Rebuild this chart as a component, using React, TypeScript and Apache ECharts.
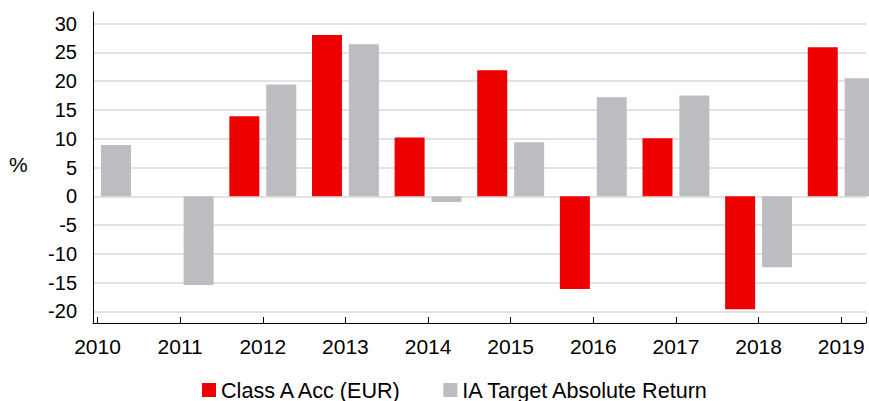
import React, { useEffect, useRef } from "react";
import * as echarts from "echarts";

const years = [2010, 2011, 2012, 2013, 2014, 2015, 2016, 2017, 2018, 2019];
const classA: (number | null)[] = [null, null, 13.9, 28.0, 10.2, 21.9, -16.1, 10.1, -19.6, 25.9];
const iaTarget: (number | null)[] = [8.9, -15.4, 19.4, 26.4, -1.0, 9.4, 17.2, 17.5, -12.3, 20.5];
const seriesNames = ["Class A Acc (EUR)", "IA Target Absolute Return"];
const yTickStep = 5;

const FONT = "'Liberation Sans', Arial, sans-serif";

export default function App() {
  const ref = useRef<HTMLDivElement>(null);
  useEffect(() => {
    if (!ref.current) return;
    const chart = echarts.init(ref.current, undefined, { renderer: "svg" });
    const toPairs = (arr: (number | null)[]) =>
      years.map((y, i) => [y, arr[i]]).filter((p) => p[1] !== null);
    const T = "rgba(0,0,0,0)";
    const G = "#d9d9d9";
    chart.setOption({
      animation: false,
      grid: { left: 93, right: 0, top: 12, bottom: 78, containLabel: false },
      xAxis: {
        type: "value",
        min: 2009.945,
        max: 2019.3,
        minInterval: 1,
        maxInterval: 1,
        axisLine: { show: true, onZero: false, lineStyle: { color: "#000", width: 1 } },
        axisTick: { show: true, inside: true, length: 6, lineStyle: { color: "#000" } },
        splitLine: { show: false },
        axisLabel: {
          margin: 13,
          fontSize: 21,
          fontFamily: FONT,
          color: "#000",
          formatter: (v: number) => (Number.isInteger(v) ? String(v) : ""),
        },
      },
      yAxis: {
        type: "value",
        min: -22,
        max: 32,
        minInterval: 1,
        maxInterval: 1,
        axisLine: { show: true, lineStyle: { color: "#000", width: 1 } },
        axisTick: { show: false },
        splitLine: { show: true, lineStyle: { color: [T, T, G, T, T], width: 1.5 } },
        axisLabel: {
          margin: 16,
          fontSize: 20,
          fontFamily: FONT,
          color: "#000",
          formatter: (v: number) => (Math.round(v) % yTickStep === 0 ? String(Math.round(v)) : ""),
        },
      },
      legend: {
        left: 197,
        top: 374,
        itemWidth: 14,
        itemHeight: 14,
        itemGap: 40,
        icon: "rect",
        textStyle: { fontSize: 21.6, fontFamily: FONT, color: "#000" },
        data: seriesNames,
      },
      graphic: [
        {
          type: "text",
          left: 9,
          top: 154,
          style: { text: "%", fontSize: 21, fontFamily: FONT, fill: "#000" },
        },
      ],
      series: [
        {
          name: seriesNames[0],
          type: "bar",
          data: toPairs(classA),
          barWidth: 30,
          barGap: "23%",
          itemStyle: { color: "#ee0000" },
        },
        {
          name: seriesNames[1],
          type: "bar",
          data: toPairs(iaTarget),
          barWidth: 30,
          barGap: "23%",
          itemStyle: { color: "#bcbdc0" },
        },
      ],
    });
    return () => chart.dispose();
  }, []);
  return (
    <div
      ref={ref}
      style={{ position: "absolute", left: 0, top: 0, width: 869, height: 401, background: "#fff" }}
    />
  );
}
